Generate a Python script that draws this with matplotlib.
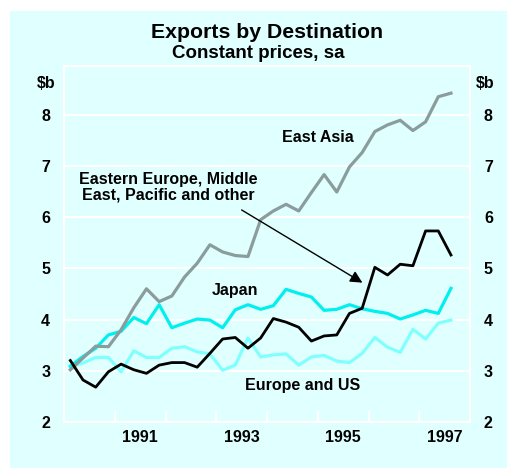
import numpy as np
import matplotlib
matplotlib.use("Agg")
import matplotlib.pyplot as plt
from matplotlib.patches import Rectangle

plt.rcParams['font.family'] = ['Liberation Sans', 'DejaVu Sans']
plt.rcParams['font.weight'] = 'bold'

# quarterly observations, 1990 Q1 to 1997 Q3 ($b, constant prices, sa)
quarters = 1990.125 + 0.25 * np.arange(31)

east_asia = [3.02, 3.25, 3.48, 3.47, 3.80, 4.23, 4.60, 4.35, 4.46, 4.83, 5.10,
             5.46, 5.32, 5.25, 5.23, 5.95, 6.12, 6.25, 6.12, 6.48, 6.83, 6.49,
             6.98, 7.26, 7.67, 7.80, 7.89, 7.69, 7.86, 8.35, 8.42]
japan = [3.09, 3.28, 3.44, 3.70, 3.77, 4.04, 3.92, 4.29, 3.84, 3.93, 4.01,
         3.99, 3.84, 4.19, 4.29, 4.20, 4.27, 4.59, 4.51, 4.44, 4.18, 4.20,
         4.29, 4.21, 4.16, 4.12, 4.01, 4.09, 4.18, 4.12, 4.61]
europe_us = [3.08, 3.15, 3.26, 3.26, 2.98, 3.39, 3.26, 3.26, 3.44, 3.47, 3.37,
             3.33, 3.01, 3.11, 3.64, 3.27, 3.31, 3.33, 3.11, 3.27, 3.30, 3.19,
             3.16, 3.34, 3.65, 3.46, 3.36, 3.81, 3.62, 3.93, 3.99]
other = [3.20, 2.82, 2.68, 2.98, 3.13, 3.02, 2.95, 3.11, 3.16, 3.16, 3.07,
         3.34, 3.62, 3.65, 3.44, 3.64, 4.02, 3.95, 3.85, 3.58, 3.68, 3.70,
         4.12, 4.22, 5.02, 4.87, 5.08, 5.05, 5.73, 5.73, 5.26]

year_labels = ['1991', '1993', '1995', '1997']
y_ticks = [2, 3, 4, 5, 6, 7, 8]

bg = '#e0ffff'
W, H = 510, 471
fig = plt.figure(figsize=(W / 100, H / 100), dpi=100)
fig.patch.set_facecolor('white')
fig.patches.append(Rectangle((10 / W, 1 - 468 / H), 497 / W, 457 / H,
                             transform=fig.transFigure, facecolor=bg,
                             edgecolor='none', zorder=-10))

ax = fig.add_axes([64 / W, 1 - 422 / H, 406 / W, 356 / H])
ax.set_facecolor(bg)
ax.set_xlim(1990, 1998)
ax.set_ylim(2, 8.95)

for s in ax.spines.values():
    s.set_color('white')
    s.set_linewidth(1.5)

ax.set_yticks(y_ticks)
ax.grid(axis='y', color='white', linewidth=1.5)
ax.set_axisbelow(True)
ax.tick_params(axis='y', length=0, labelsize=11.5, pad=10,
               labelleft=True, labelright=True)

# year boundary ticks, labels in the middle of the year
ax.set_xticks(range(1991, 1998))
ax.set_xticklabels([])
ax.tick_params(axis='x', direction='in', length=8, width=1.5, color='white')
for lab in year_labels:
    ax.text(int(lab) + 0.5, -0.022, lab, transform=ax.get_xaxis_transform(),
            ha='center', va='top', fontsize=11.5, fontweight='bold')

ax.plot(quarters, europe_us, color='#80ffff', lw=2.3)
ax.plot(quarters, japan, color='#00f0f0', lw=2.3)
ax.plot(quarters, east_asia, color='#8a9c9c', lw=2.3)
ax.plot(quarters, other, color='black', lw=2.0)

ax.text(1995.0, 7.55, 'East Asia', fontsize=11.5, ha='center', va='center')
ax.text(1993.36, 4.56, 'Japan', fontsize=11.5, ha='center', va='center')
ax.text(1994.71, 2.72, 'Europe and US', fontsize=11.5, ha='center', va='center')
ax.text(1992.05, 6.58, 'Eastern Europe, Middle\nEast, Pacific and other',
        fontsize=11.5, ha='center', va='center', linespacing=1.0)
ax.annotate('', xy=(1995.88, 4.72), xytext=(1993.5, 6.14),
            arrowprops=dict(arrowstyle='-|>', color='black', lw=1.0,
                            mutation_scale=18, shrinkA=0, shrinkB=0))

fig.text(267 / W, 1 - 32 / H, 'Exports by Destination', ha='center',
         va='center', fontsize=15.3, fontweight='bold')
fig.text(258 / W, 1 - 53 / H, 'Constant prices, sa', ha='center',
         va='center', fontsize=13.5, fontweight='bold')
fig.text(46 / W, 1 - 83 / H, r'\$b', ha='center', va='center', fontsize=11.5)
fig.text(485 / W, 1 - 83 / H, r'\$b', ha='center', va='center', fontsize=11.5)

fig.savefig('out.png', dpi=100, facecolor=fig.get_facecolor())
